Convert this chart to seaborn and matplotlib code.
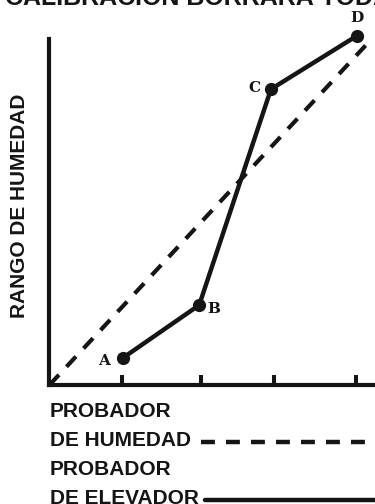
import matplotlib
matplotlib.use("Agg")
import matplotlib.pyplot as plt
from matplotlib.lines import Line2D
import pandas as pd
import seaborn as sns

# elevator tester points A-D (solid line)
labels = ["A", "B", "C", "D"]
elev_x = [1.01, 1.99, 2.91, 4.01]
elev_y = [0.78, 2.31, 8.55, 10.09]
# moisture tester reference (dashed diagonal)
moist_x = [0.07, 4.18]
moist_y = [0.0, 9.95]
tick_pos = [1.0, 2.01, 2.95, 4.0]

title = "CALIBRACIÓN BORRARÁ TODAS"
ylabel = "RANGO DE HUMEDAD"
legend_lines = ["PROBADOR", "DE HUMEDAD", "PROBADOR", "DE ELEVADOR"]

W, H = 375, 504
sns.set_theme(style="white")
plt.rcParams["font.family"] = ["Liberation Sans", "DejaVu Sans"]
plt.rcParams["lines.scale_dashes"] = False

fig = plt.figure(figsize=(W / 100, H / 100), dpi=100)
ax = fig.add_axes([49 / W, 1 - 385 / H, 1 - 49 / W, (385 - 39) / H])

ink = "#151515"
df_elev = pd.DataFrame({"x": elev_x, "y": elev_y})
df_moist = pd.DataFrame({"x": moist_x, "y": moist_y})

sns.lineplot(data=df_moist, x="x", y="y", ax=ax, color=ink, linewidth=3.0,
             linestyle=(0, (10, 8)), sort=False, clip_on=False)
sns.lineplot(data=df_elev, x="x", y="y", ax=ax, color=ink, linewidth=3.2,
             marker="o", markersize=9.5, markeredgewidth=0, sort=False,
             clip_on=False)

# point letters (typewriter-like, slab serif)
offsets = {"A": (-19, -3), "B": (15, -4), "C": (-17, 1), "D": (0, 18)}
for lab, x, y in zip(labels, elev_x, elev_y):
    ax.annotate(lab, (x, y), xytext=offsets[lab], textcoords="offset pixels",
                ha="center", va="center", fontsize=11, fontweight="bold",
                family="DejaVu Serif", color=ink, annotation_clip=False)

ax.set_xlim(0.064, 4.244)
ax.set_ylim(0, 10)
ax.set_xticks(tick_pos)
ax.set_yticks([])
ax.tick_params(axis="x", direction="in", length=7.5, width=2.9, color=ink,
               labelbottom=False, bottom=True)
for side in ["top", "right"]:
    ax.spines[side].set_visible(False)
for side in ["left", "bottom"]:
    ax.spines[side].set_linewidth(3.0)
    ax.spines[side].set_color(ink)
ax.set_xlabel("")
ax.set_ylabel("")
ax.patch.set_alpha(0)

fig.text(20 / W, 1 - 205.5 / H, ylabel, rotation=90, ha="center", va="center",
         fontsize=15, fontweight="bold", color=ink)
# title runs off the top/right edge, as in the original
fig.text(5 / W, 1 - 5 / H, title, ha="left", va="baseline",
         fontsize=18, fontweight="bold", color=ink)

baselines = [417, 446, 475, 504]
for txt, b in zip(legend_lines, baselines):
    fig.text(50 / W, 1 - b / H, txt, ha="left", va="baseline",
             fontsize=15, fontweight="bold", color=ink)

fig.add_artist(Line2D([201 / W, 1.0], [1 - 441.5 / H] * 2, color=ink,
                      linewidth=3.2, linestyle=(0, (10, 8))))
fig.add_artist(Line2D([205 / W, 1.0], [1 - 499.5 / H] * 2, color=ink,
                      linewidth=3.2))

fig.savefig("out.png", dpi=100)
